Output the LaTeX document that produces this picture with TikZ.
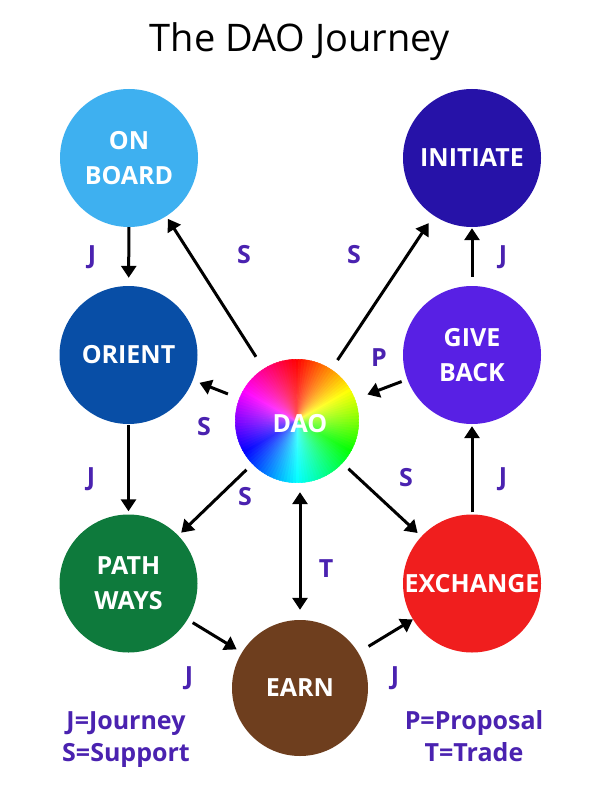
\documentclass[tikz,border=0pt]{standalone}
\usepackage{fontspec}
\setmainfont{Open Sans}
\usetikzlibrary{arrows.meta,fadings}
\tikzfading[name=wheelfade, inner color=transparent!0, outer color=transparent!100]
\definecolor{cOnboard}{HTML}{3EB0F0}
\definecolor{cInitiate}{HTML}{2612A8}
\definecolor{cOrient}{HTML}{084EA6}
\definecolor{cGive}{HTML}{5820E4}
\definecolor{cPath}{HTML}{0E7A3C}
\definecolor{cExch}{HTML}{F01E1E}
\definecolor{cEarn}{HTML}{6E3E1E}
\definecolor{lblc}{HTML}{4A22B0}
\begin{document}
\begin{tikzpicture}[x=1pt,y=-1pt,
  circ/.style={circle, inner sep=0pt, minimum size=138pt, text=white,
    font=\fontsize{25}{35}\selectfont\bfseries, align=center},
  lbl/.style={text=lblc, font=\fontsize{25}{30}\selectfont\bfseries, anchor=base},
  tipA/.tip={Triangle[length=12pt,width=15pt]},
  arr/.style={line width=3pt, -tipA},
  darr/.style={line width=3pt, tipA-tipA}]
\useasboundingbox (0,0) rectangle (600,789);
\fill[white] (0,0) rectangle (600,789);

% title
\node[anchor=base, font=\fontsize{38}{44}\selectfont] (title) at (300,52) {The DAO Journey};

% colour wheel
\begin{scope}[shift={(297,421)}, yscale=-1]
  \foreach \i in {0,...,119}{
    \pgfmathsetmacro\h{\i*3}
    \convertcolorspec{Hsb}{\h,1,1}{rgb}\wheelrgb
    \definecolor{wc}{rgb}{\wheelrgb}
    \pgfmathsetmacro\a{90-\h}
    \fill[wc, draw=wc, line width=0.6pt] (0,0) -- (\a+1.6:61.7)
      arc[start angle=\a+1.6, end angle=\a-1.6, radius=61.7] -- cycle;
  }
  \fill[white, path fading=wheelfade, fill opacity=0.35] (0,0) circle (62);
\end{scope}

% nodes
\node[circ, fill=cOnboard] (onboard) at (129,158) {ON\\BOARD};
\node[circ, fill=cInitiate] (initiate) at (472,158) {INITIATE};
\node[circ, fill=cOrient] (orient) at (128.5,355) {ORIENT};
\node[circ, fill=cGive] (giveback) at (472,355) {GIVE\\BACK};
\node[circ, fill=cPath] (pathways) at (128.5,583.5) {PATH\\WAYS};
\node[circ, fill=cExch] (exchange) at (472,583.5) {EXCHANGE};
\node[circ, fill=cEarn, minimum size=136pt] (earn) at (300,688) {EARN};
\node[circ, minimum size=124pt] (dao) at (297,421) {};
\node[text=white, font=\fontsize{25}{30}\selectfont\bfseries] (daotext) at ([xshift=3pt,yshift=-3pt]dao.center) {DAO};

% connectors
\draw[arr, shorten >=8pt] (onboard) -- (orient);
\draw[arr, shorten <=1pt, shorten >=3pt] (orient) -- (pathways);
\draw[arr, shorten <=6pt, shorten >=6pt] (pathways) -- (earn);
\draw[arr, shorten <=12pt] (earn) -- (exchange);
\draw[arr, shorten <=2pt, shorten >=2pt] (exchange) -- (giveback);
\draw[arr, shorten <=9pt, shorten >=1pt] (giveback) -- (initiate);
\draw[arr, shorten <=6pt, shorten >=13pt] (giveback) -- (dao);
\draw[arr, shorten <=11pt, shorten >=9pt] (dao) -- (initiate);
\draw[arr, shorten <=14pt, shorten >=3pt] (dao) -- (onboard);
\draw[arr, shorten <=12pt, shorten >=7pt] (dao) -- (orient);
\draw[arr, shorten <=8pt, shorten >=4pt] (dao) -- (pathways);
\draw[arr, shorten <=8pt, shorten >=5pt] (dao) -- (exchange);
\draw[darr, shorten <=9pt, shorten >=10pt] (earn.north |- dao.south) -- (earn.north);

% connector labels
\node[lbl] (l1) at (92,263) {J};
\node[lbl] (l2) at (244,263) {S};
\node[lbl] (l3) at (354,263) {S};
\node[lbl] (l4) at (503,263) {J};
\node[lbl] (l5) at (379,366) {P};
\node[lbl] (l6) at (204,435) {S};
\node[lbl] (l7) at (91,485) {J};
\node[lbl] (l8) at (245,505) {S};
\node[lbl] (l9) at (406,486) {S};
\node[lbl] (l10) at (503,485) {J};
\node[lbl] (l11) at (326,577) {T};
\node[lbl] (l12) at (189,684) {J};
\node[lbl] (l13) at (395,684) {J};

% legend
\node[lbl] (legJ) at (126,729) {J=Journey};
\node[lbl] (legS) at (126,761) {S=Support};
\node[lbl] (legP) at (474,729) {P=Proposal};
\node[lbl] (legT) at (474,761) {T=Trade};
\end{tikzpicture}
\end{document}
